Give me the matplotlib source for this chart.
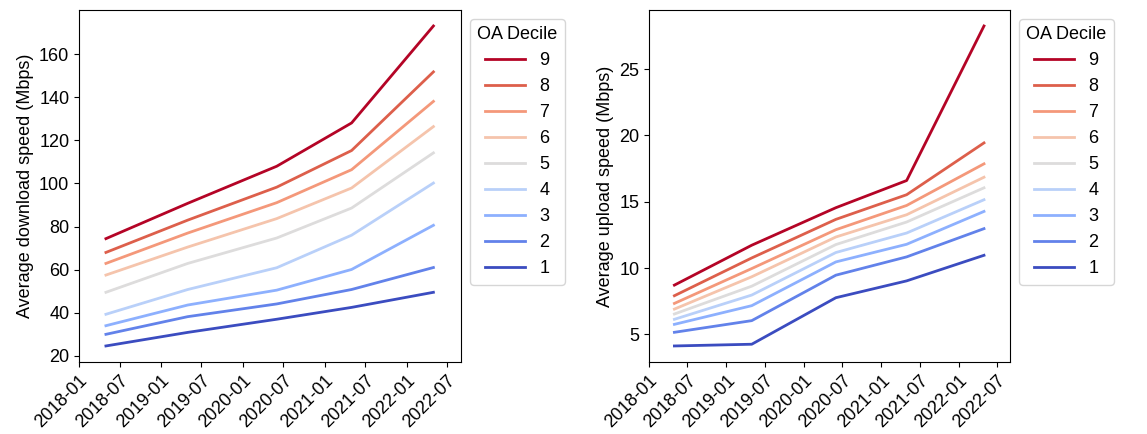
import numpy as np
import pandas as pd
import matplotlib
matplotlib.use("Agg")
import matplotlib.pyplot as plt
import matplotlib.dates as mdates

plt.rcParams['font.family'] = ['Liberation Sans', 'DejaVu Sans']
plt.rcParams['font.size'] = 13

dates = pd.to_datetime(["2018-05-01", "2019-05-01", "2020-06-01", "2021-05-01", "2022-05-01"])
deciles = [1, 2, 3, 4, 5, 6, 7, 8, 9]

# average download speed (Mbps) per OA decile
download = {
    1: [24.6, 30.9, 37.0, 42.5, 49.5],
    2: [30.0, 38.2, 44.1, 50.8, 61.0],
    3: [34.0, 43.6, 50.5, 60.1, 80.6],
    4: [39.3, 50.8, 60.9, 76.0, 100.2],
    5: [49.5, 62.9, 74.7, 88.6, 114.2],
    6: [57.5, 70.5, 83.7, 97.9, 126.4],
    7: [62.9, 77.0, 91.1, 106.4, 138.1],
    8: [68.0, 83.0, 98.3, 115.3, 151.8],
    9: [74.4, 90.8, 108.0, 128.1, 173.1],
}

# average upload speed (Mbps) per OA decile
upload = {
    1: [4.12, 4.25, 7.76, 9.03, 10.96],
    2: [5.15, 6.03, 9.46, 10.84, 12.97],
    3: [5.75, 7.16, 10.46, 11.79, 14.27],
    4: [6.13, 7.96, 11.17, 12.64, 15.15],
    5: [6.53, 8.63, 11.77, 13.47, 16.05],
    6: [6.90, 9.34, 12.34, 14.02, 16.85],
    7: [7.33, 9.96, 12.89, 14.72, 17.86],
    8: [7.91, 10.76, 13.67, 15.53, 19.44],
    9: [8.71, 11.72, 14.55, 16.60, 28.26],
}

cmap = plt.get_cmap("coolwarm")
colors = {d: cmap((d - 1) / 8) for d in deciles}

fig = plt.figure(figsize=(11.47, 4.34), dpi=100)
ax1 = fig.add_axes([0.0689, 0.166, 0.333, 0.811])
ax2 = fig.add_axes([0.5658, 0.166, 0.3148, 0.811])

for ax, data, ylabel in [(ax1, download, "Average download speed (Mbps)"),
                         (ax2, upload, "Average upload speed (Mbps)")]:
    for d in deciles[::-1]:
        ax.plot(dates, data[d], color=colors[d], lw=2, label=str(d))
    ax.set_ylabel(ylabel)
    ax.set_xlim(pd.Timestamp("2018-01-01"), pd.Timestamp("2022-09-01"))
    ax.xaxis.set_major_locator(mdates.MonthLocator(bymonth=[1, 7]))
    ax.xaxis.set_major_formatter(mdates.DateFormatter("%Y-%m"))
    for lab in ax.get_xticklabels():
        lab.set_rotation(45)
        lab.set_ha("right")
        lab.set_rotation_mode("anchor")
    ax.legend(title="OA Decile", loc="upper left", bbox_to_anchor=(1.0, 1.0),
              handlelength=2.2, fontsize=13, title_fontsize=13)

ax1.set_yticks([20, 40, 60, 80, 100, 120, 140, 160])
ax2.set_yticks([5, 10, 15, 20, 25])

fig.savefig("out.png", dpi=100)
